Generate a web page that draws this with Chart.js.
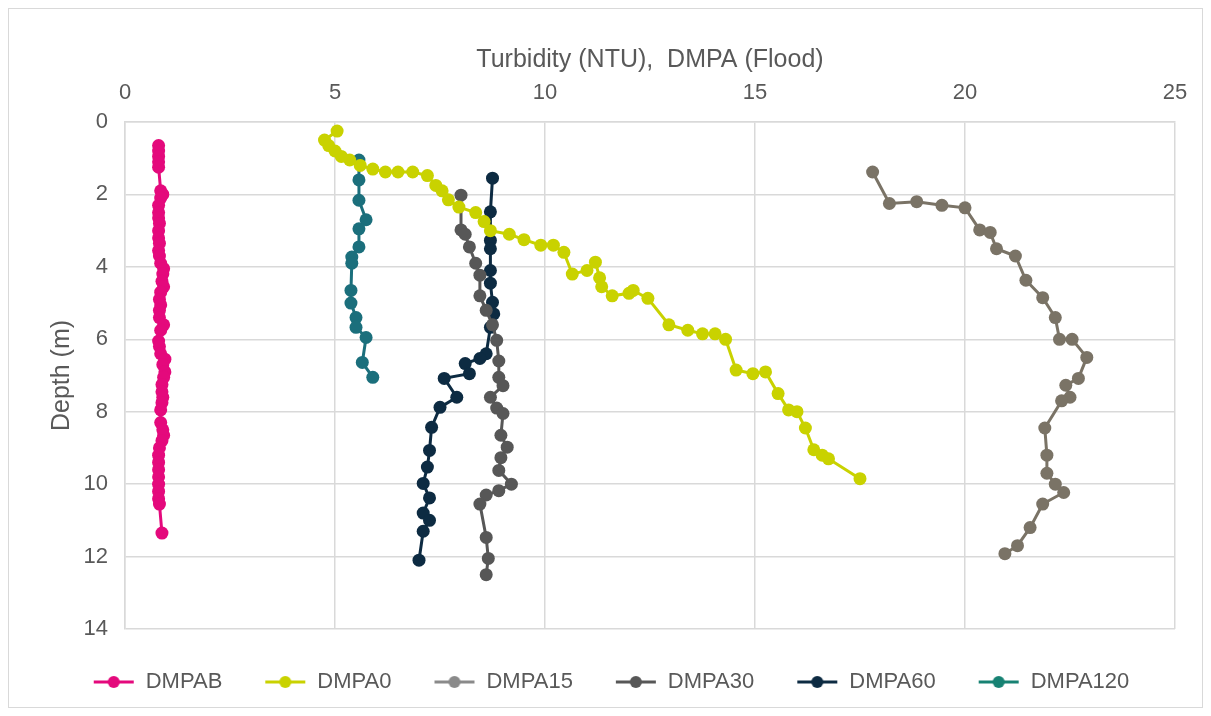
<!DOCTYPE html>
<html>
<head>
<meta charset="utf-8">
<script src="https://cdn.jsdelivr.net/npm/chart.js@4.4.1/dist/chart.umd.min.js"></script>
<style>
  html, body { margin: 0; padding: 0; background: #fff; }
  #wrap { width: 1211px; height: 716px; }
</style>
</head>
<body>
<div id="wrap"><canvas id="chart" width="1211" height="716"></canvas></div>
<script>
"use strict"
// Serienamn och färger
const seriesNames = ["DMPAB", "DMPA0", "DMPA15", "DMPA30", "DMPA60", "DMPA120"];
const seriesColors = ["#e4097c", "#c9d200", "#7a7366", "#575757", "#0d2b42", "#1b6f7c"];
const legendColors = ["#e4097c", "#c9d200", "#8a8a8a", "#575757", "#0d2b42", "#178273"];

// Axlar
const turbTicks = [0, 5, 10, 15, 20, 25];
const depthTicks = [0, 2, 4, 6, 8, 10, 12, 14];

// DMPAB
const dmpabTurb = [0.8, 0.8, 0.8, 0.8, 0.8, 0.85, 0.9, 0.85, 0.8, 0.8, 0.8, 0.82, 0.8, 0.8, 0.82, 0.8, 0.82, 0.85, 0.92, 0.9, 0.88, 0.92, 0.85, 0.82, 0.85, 0.82, 0.82, 0.92, 0.85, 0.8, 0.82, 0.85, 0.95, 0.9, 0.95, 0.92, 0.88, 0.88, 0.9, 0.88, 0.85, 0.85, 0.9, 0.92, 0.88, 0.82, 0.8, 0.8, 0.8, 0.8, 0.8, 0.8, 0.8, 0.82, 0.88];
const dmpabDepth = [0.65, 0.8, 0.95, 1.1, 1.25, 1.9, 2.0, 2.1, 2.3, 2.5, 2.65, 2.8, 3.0, 3.2, 3.35, 3.55, 3.7, 3.9, 4.05, 4.2, 4.4, 4.55, 4.7, 4.9, 5.05, 5.2, 5.4, 5.6, 5.75, 6.05, 6.2, 6.4, 6.55, 6.7, 6.9, 7.05, 7.25, 7.45, 7.6, 7.75, 7.95, 8.3, 8.5, 8.65, 8.8, 9.0, 9.2, 9.4, 9.6, 9.8, 10.0, 10.2, 10.4, 10.55, 11.35];

// DMPA0
const dmpa0Turb = [5.05, 4.75, 4.85, 5.0, 5.15, 5.35, 5.6, 5.9, 6.2, 6.5, 6.85, 7.2, 7.4, 7.55, 7.7, 7.95, 8.35, 8.55, 8.7, 9.15, 9.5, 9.9, 10.2, 10.45, 10.65, 11.0, 11.2, 11.3, 11.35, 11.6, 12.0, 12.1, 12.45, 12.95, 13.4, 13.75, 14.05, 14.3, 14.55, 14.95, 15.25, 15.55, 15.8, 16.0, 16.2, 16.4, 16.6, 16.75, 17.5];
const dmpa0Depth = [0.25, 0.5, 0.65, 0.8, 0.95, 1.05, 1.2, 1.3, 1.38, 1.38, 1.38, 1.48, 1.75, 1.9, 2.15, 2.35, 2.5, 2.75, 3.0, 3.1, 3.25, 3.4, 3.4, 3.6, 4.2, 4.1, 3.87, 4.3, 4.55, 4.8, 4.73, 4.65, 4.87, 5.6, 5.75, 5.85, 5.85, 6.0, 6.85, 6.95, 6.9, 7.5, 7.95, 8.0, 8.45, 9.05, 9.2, 9.3, 9.85];

// DMPA15
const dmpa15Turb = [17.8, 18.2, 18.85, 19.45, 20.0, 20.35, 20.6, 20.75, 21.2, 21.45, 21.85, 22.15, 22.25, 22.55, 22.9, 22.7, 22.4, 22.5, 22.3, 21.9, 21.95, 21.95, 22.15, 22.35, 21.85, 21.55, 21.25, 20.95];
const dmpa15Depth = [1.38, 2.25, 2.2, 2.3, 2.37, 2.98, 3.05, 3.5, 3.7, 4.37, 4.85, 5.4, 6.0, 6.0, 6.5, 7.08, 7.27, 7.6, 7.7, 8.45, 9.2, 9.7, 10.0, 10.23, 10.55, 11.2, 11.7, 11.92];

// DMPA30
const dmpa30Turb = [8.0, 8.0, 8.1, 8.2, 8.35, 8.45, 8.45, 8.6, 8.75, 8.85, 8.9, 8.9, 9.0, 8.7, 8.85, 9.0, 8.95, 9.1, 8.95, 8.9, 9.2, 8.9, 8.6, 8.45, 8.6, 8.65, 8.6];
const dmpa30Depth = [2.02, 2.98, 3.1, 3.45, 3.9, 4.23, 4.8, 5.2, 5.6, 6.03, 6.6, 7.05, 7.28, 7.6, 7.9, 8.05, 8.65, 8.98, 9.27, 9.62, 10.0, 10.18, 10.3, 10.55, 11.47, 12.05, 12.5];

// DMPA60
const dmpa60Turb = [8.75, 8.7, 8.7, 8.7, 8.7, 8.7, 8.75, 8.78, 8.7, 8.6, 8.45, 8.1, 8.2, 7.6, 7.9, 7.5, 7.3, 7.25, 7.2, 7.1, 7.25, 7.1, 7.25, 7.1, 7.0];
const dmpa60Depth = [1.55, 2.48, 3.27, 3.5, 4.1, 4.45, 4.98, 5.3, 5.67, 6.4, 6.53, 6.67, 6.95, 7.08, 7.6, 7.88, 8.43, 9.07, 9.53, 9.98, 10.38, 10.8, 11.0, 11.3, 12.1];

// DMPA120
const dmpa120Turb = [5.57, 5.57, 5.57, 5.74, 5.57, 5.57, 5.4, 5.4, 5.38, 5.38, 5.5, 5.5, 5.74, 5.65, 5.9];
const dmpa120Depth = [1.05, 1.6, 2.16, 2.7, 2.95, 3.45, 3.73, 3.9, 4.65, 5.0, 5.4, 5.67, 5.95, 6.64, 7.05];

const turbSeries = [dmpabTurb, dmpa0Turb, dmpa15Turb, dmpa30Turb, dmpa60Turb, dmpa120Turb];
const depthSeries = [dmpabDepth, dmpa0Depth, dmpa15Depth, dmpa30Depth, dmpa60Depth, dmpa120Depth];

const fontName = "Liberation Sans";

// Linje + markör för legenden
function legendSymbol(color) {
    const c = document.createElement("canvas");
    c.width = 42;
    c.height = 14;
    const g = c.getContext("2d");
    g.strokeStyle = color;
    g.lineWidth = 3;
    g.beginPath();
    g.moveTo(1, 7);
    g.lineTo(41, 7);
    g.stroke();
    g.fillStyle = color;
    g.beginPath();
    g.arc(21, 7, 6, 0, Math.PI * 2);
    g.fill();
    return c;
}

// Ram runt hela diagrammet
const framePlugin = {
    id: "frame",
    beforeDraw(chart) {
        const ctx = chart.ctx;
        ctx.save();
        ctx.fillStyle = "#fff";
        ctx.fillRect(0, 0, chart.width, chart.height);
        ctx.strokeStyle = "#d9d9d9";
        ctx.lineWidth = 1;
        ctx.strokeRect(8.5, 8.5, chart.width - 17, chart.height - 17);
        ctx.restore();
    }
};

const datasets = seriesNames.map((name, i) => ({
    label: name,
    data: turbSeries[i].map((t, j) => ({ x: t, y: depthSeries[i][j] })),
    showLine: true,
    borderColor: seriesColors[i],
    backgroundColor: seriesColors[i],
    borderWidth: 3,
    pointRadius: 6.5,
    pointBorderWidth: 0,
    pointHoverRadius: 6.5,
    legendColor: legendColors[i]
}));

const ctx = document.getElementById("chart");
new Chart(ctx, {
    type: "scatter",
    data: { datasets: datasets },
    plugins: [framePlugin],
    options: {
        responsive: false,
        animation: false,
        layout: { padding: { left: 47, right: 36, top: 45, bottom: 13 } },
        scales: {
            x: {
                type: "linear",
                position: "top",
                min: 0,
                max: 25,
                afterBuildTicks: (scale) => { scale.ticks = turbTicks.map(v => ({ value: v })); },
                afterFit: (scale) => { scale.height = 77; },
                ticks: { color: "#595959", font: { family: fontName, size: 22 }, padding: 16 },
                grid: { color: "#d9d9d9", lineWidth: 1.5, drawTicks: false },
                border: { color: "#d9d9d9", width: 1.5 },
                title: {
                    display: true,
                    text: "Turbidity (NTU),  DMPA (Flood)",
                    color: "#595959",
                    font: { family: fontName, size: 25 },
                    padding: { top: 0, bottom: 0 }
                }
            },
            y: {
                type: "linear",
                reverse: true,
                min: 0,
                max: 14,
                afterBuildTicks: (scale) => { scale.ticks = depthTicks.map(v => ({ value: v })); },
                afterFit: (scale) => { scale.width = 78; },
                ticks: { color: "#595959", font: { family: fontName, size: 22 }, padding: 17 },
                grid: { color: "#d9d9d9", lineWidth: 1.5, drawTicks: false },
                border: { color: "#d9d9d9", width: 1.5 },
                title: {
                    display: true,
                    text: "Depth (m)",
                    color: "#595959",
                    font: { family: fontName, size: 25 },
                    padding: { top: 0, bottom: 0 }
                }
            }
        },
        plugins: {
            tooltip: { enabled: false },
            legend: {
                position: "bottom",
                labels: {
                    color: "#595959",
                    font: { family: fontName, size: 22 },
                    usePointStyle: true,
                    pointStyleWidth: 42,
                    padding: 42,
                    generateLabels: (chart) => {
                        const items = Chart.defaults.plugins.legend.labels.generateLabels(chart);
                        return items.map((it, i) => {
                            it.pointStyle = legendSymbol(chart.data.datasets[i].legendColor);
                            return it;
                        });
                    }
                }
            }
        }
    }
});
</script>
</body>
</html>
